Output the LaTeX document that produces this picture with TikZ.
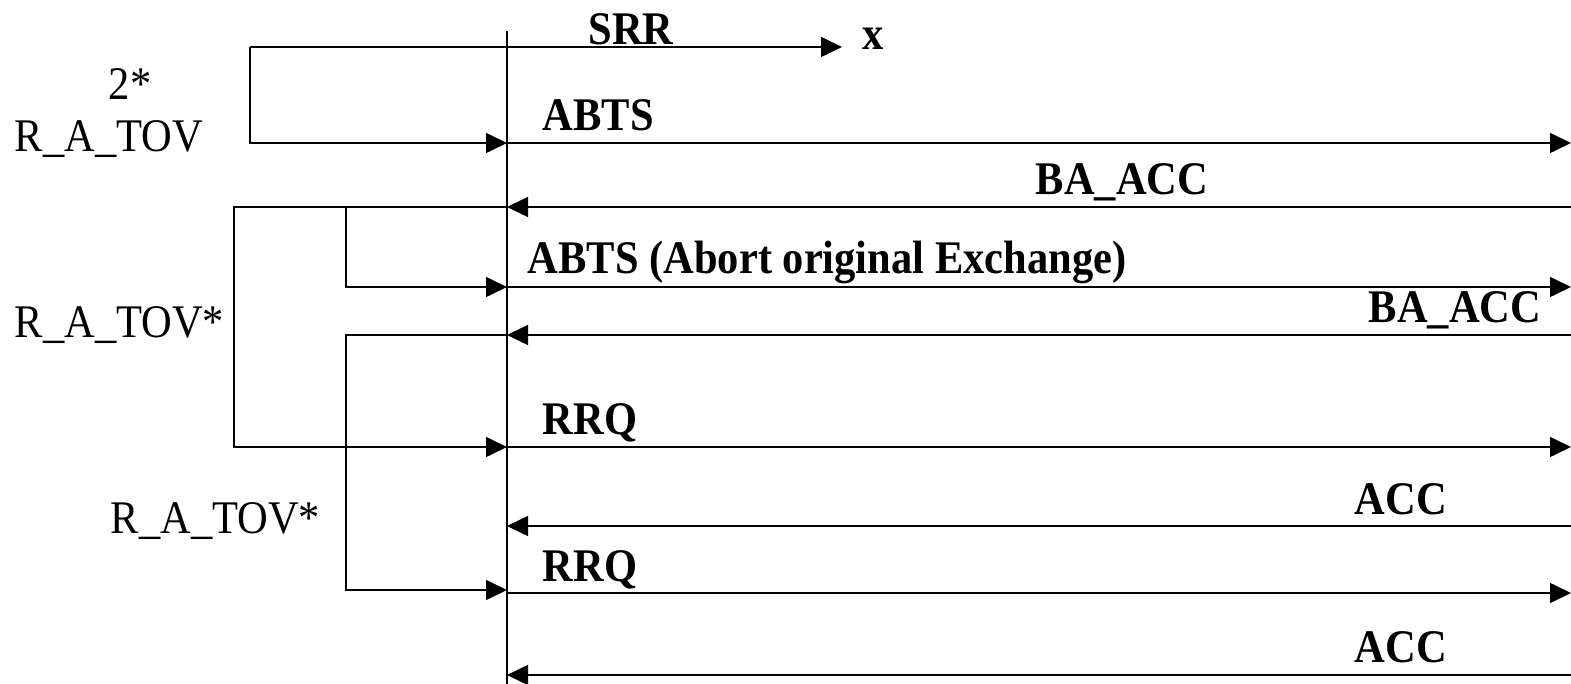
\documentclass[tikz,border=0pt]{standalone}
\usepackage{fontspec}
\setmainfont{Liberation Serif}
\usetikzlibrary{arrows.meta}
\newcommand{\tallt}[1]{\scalebox{1}[1.1]{#1}}
\begin{document}
\begin{tikzpicture}[x=1pt,y=-1pt,
  line width=1.6pt,
  msg/.style={-{Triangle[length=21pt,width=20pt]}},
  lbl/.style={inner sep=0pt,font=\fontsize{42.5}{48}\selectfont\bfseries},
  tlbl/.style={inner sep=0pt,font=\fontsize{42.5}{48}\selectfont}]
\useasboundingbox (0,0) rectangle (1571,684);
% lifeline
\coordinate (ltop) at (507,31);
\coordinate (lbot) at (507,684);
\draw[line width=1.3pt] (ltop) -- (lbot);
% endpoints on lifeline
\coordinate (l1) at (507,143);
\coordinate (l2) at (507,207);
\coordinate (l3) at (507,287);
\coordinate (l4) at (507,335);
\coordinate (l5) at (507,447);
\coordinate (l6) at (507,526);
\coordinate (l7) at (507,593);
\coordinate (l8) at (507,675);
% right edge
\coordinate (r1) at (1571,143);
\coordinate (r2) at (1571,207);
\coordinate (r3) at (1571,287);
\coordinate (r4) at (1571,335);
\coordinate (r5) at (1571,447);
\coordinate (r6) at (1571,526);
\coordinate (r7) at (1571,593);
\coordinate (r8) at (1571,675);
% SRR timer
\coordinate (s0) at (250,47);
\coordinate (s1) at (842,47);
\draw[msg] (s0) -- (s1);
\draw[msg] (s0) -- (250,143) -- (l1);
% messages
\draw[msg] (l1) -- (r1);
\draw[msg] (r2) -- (l2);
\draw[msg] (l3) -- (r3);
\draw[msg] (r4) -- (l4);
\draw[msg] (l5) -- (r5);
\draw[msg] (r6) -- (l6);
\draw[msg] (l7) -- (r7);
\draw[msg] (r8) -- (l8);
% timer brackets
\draw[msg] (l2) -- (234,207) -- (234,447) -- (l5);
\draw[msg] (346,207) -- (346,287) -- (l3);
\draw[msg] (l4) -- (346,335) -- (346,590) -- (507,590);
% labels
\node[lbl,anchor=base] (srr) at (631,45) {\tallt{SRR}};
\node[lbl,anchor=base west] (xx) at (862,50) {\tallt{x}};
\node[tlbl,anchor=base] (two) at (130,100) {\tallt{2*}};
\node[tlbl,anchor=base west] (rat1) at (14,152) {\tallt{R\_A\_TOV}};
\node[lbl,anchor=base west] (abts1) at (542,131) {\tallt{ABTS}};
\node[lbl,anchor=base] (baacc1) at (1122,195) {\tallt{BA\_ACC}};
\node[lbl,anchor=base west] (abts2) at (527,274) {\tallt{ABTS (Abort original Exchange)}};
\node[lbl,anchor=base east] (baacc2) at (1542,323) {\tallt{BA\_ACC}};
\node[tlbl,anchor=base west] (rat2) at (14,338) {\tallt{R\_A\_TOV*}};
\node[lbl,anchor=base west] (rrq1) at (542,434) {\tallt{RRQ}};
\node[lbl,anchor=base] (acc1) at (1401,514) {\tallt{ACC}};
\node[tlbl,anchor=base west] (rat3) at (110,533) {\tallt{R\_A\_TOV*}};
\node[lbl,anchor=base west] (rrq2) at (542,581) {\tallt{RRQ}};
\node[lbl,anchor=base] (acc2) at (1401,662) {\tallt{ACC}};
\end{tikzpicture}
\end{document}
